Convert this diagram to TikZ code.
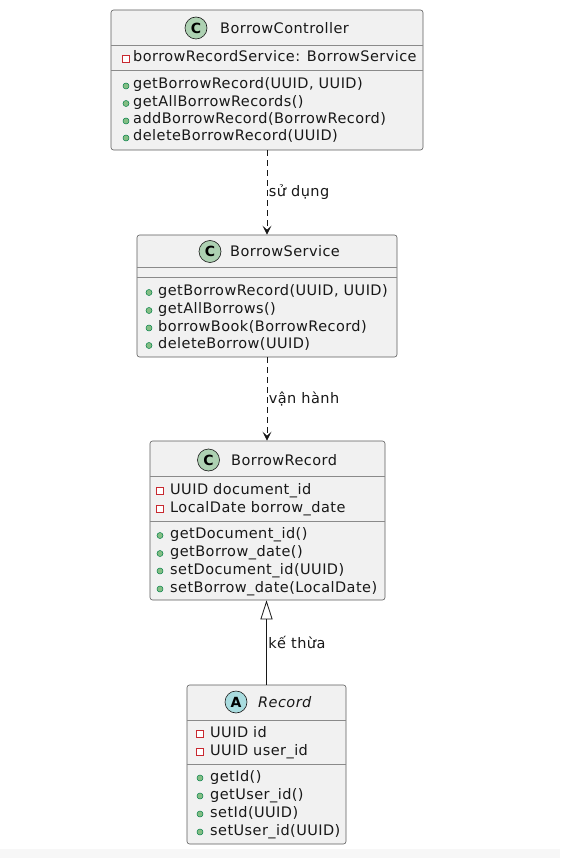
\documentclass[tikz,border=0pt]{standalone}
\usepackage{fontspec}
\setmainfont[LetterSpace=3]{DejaVu Sans}
\usepackage{xcolor}
\usepackage{tikz}
\usetikzlibrary{arrows.meta}
\definecolor{UMLFill}{HTML}{F1F1F1}
\definecolor{UMLLine}{HTML}{181818}
\definecolor{UMLSep}{HTML}{8A8A8A}
\definecolor{UMLClassIcon}{HTML}{ADD1B2}
\definecolor{UMLAbstractIcon}{HTML}{A9DCDF}
\definecolor{UMLPrivate}{HTML}{C82930}
\definecolor{UMLPublic}{HTML}{84BE84}
\definecolor{UMLPublicLine}{HTML}{038048}
\definecolor{UMLStrip}{HTML}{F7F7F7}
\newcommand\umlmember{\fontsize{14.5}{17}\selectfont}
\newcommand\umltitle{\fontsize{14.5}{17}\selectfont}

\tikzset{
  classbox/.style={draw=UMLLine!70,fill=UMLFill,line width=.6pt,rounded corners=2.5pt,inner sep=0pt},
  sepline/.style={draw=UMLSep,line width=.6pt},
  classicon/.style={circle,draw=UMLLine,line width=.6pt,fill=UMLClassIcon,minimum size=22pt,inner sep=0pt,font=\fontsize{14}{14}\selectfont\bfseries},
  abstracticon/.style={classicon,fill=UMLAbstractIcon},
  classtitle/.style={anchor=west,inner sep=0pt,font=\umltitle,text=UMLLine},
  member/.style={anchor=west,inner sep=0pt,text height=10.5pt,text depth=2.5pt,font=\umlmember,text=UMLLine},
  privmark/.style={draw=UMLPrivate,fill=white,line width=.7pt},
  pubmark/.style={draw=UMLPublicLine,fill=UMLPublic,line width=.5pt},
  uses/.style={draw=UMLLine,line width=.8pt,dash pattern=on 6pt off 4pt,-{Stealth[length=9pt,width=9pt,inset=4pt]}},
  extends/.style={draw=UMLLine,line width=.8pt,-{Triangle[open,fill=white,length=19pt,width=12pt]}},
  edgelabel/.style={anchor=west,inner sep=0pt,xshift=1.5pt,font=\umlmember,text=UMLLine},
}

\begin{document}
\begin{tikzpicture}[x=1pt,y={(0,-1pt)}]
\path[use as bounding box] (0,0) rectangle (560,858);
\fill[white] (0,0) rectangle (560,858);
\fill[UMLStrip] (0,849) rectangle (560,858);

% BorrowController
\node[classbox,minimum width=312pt,minimum height=140pt] (bc) at (267,80) {};
\draw[sepline] (111,45) -- (423,45);
\draw[sepline] (111,70) -- (423,70);
\node[classicon] (bcIcon) at (196,28) {C};
\node[classtitle] (bcTitle) at (220,28) {BorrowController};
\draw[privmark] (122.5,55) rectangle (129.5,62);
\node[member] (bcAttr1) at (133,58) {borrowRecordService: BorrowService};
\fill[pubmark] (126,86) circle (3);
\node[member] (bcOp1) at (133,85) {getBorrowRecord(UUID, UUID)};
\fill[pubmark] (126,103.5) circle (3);
\node[member] (bcOp2) at (133,102.5) {getAllBorrowRecords()};
\fill[pubmark] (126,121) circle (3);
\node[member] (bcOp3) at (133,120) {addBorrowRecord(BorrowRecord)};
\fill[pubmark] (126,138) circle (3);
\node[member] (bcOp4) at (133,137) {deleteBorrowRecord(UUID)};

% BorrowService
\node[classbox,minimum width=260pt,minimum height=122pt] (bs) at (267,296) {};
\draw[sepline] (137,267.5) -- (397,267.5);
\draw[sepline] (137,277.5) -- (397,277.5);
\node[classicon] (bsIcon) at (210,251.5) {C};
\node[classtitle] (bsTitle) at (230,251.5) {BorrowService};
\fill[pubmark] (149,292.5) circle (3);
\node[member] (bsOp1) at (158,291.5) {getBorrowRecord(UUID, UUID)};
\fill[pubmark] (149,310.5) circle (3);
\node[member] (bsOp2) at (158,309.5) {getAllBorrows()};
\fill[pubmark] (149,328) circle (3);
\node[member] (bsOp3) at (158,327) {borrowBook(BorrowRecord)};
\fill[pubmark] (149,345.5) circle (3);
\node[member] (bsOp4) at (158,344.5) {deleteBorrow(UUID)};

% BorrowRecord
\node[classbox,minimum width=235pt,minimum height=159pt] (br) at (267.5,520.5) {};
\draw[sepline] (150,476.5) -- (385,476.5);
\draw[sepline] (150,521.5) -- (385,521.5);
\node[classicon] (brIcon) at (208.5,460) {C};
\node[classtitle] (brTitle) at (231,460) {BorrowRecord};
\draw[privmark] (156.5,487) rectangle (163.5,494);
\node[member] (brAttr1) at (170,490) {UUID document\_id};
\draw[privmark] (156.5,505) rectangle (163.5,512);
\node[member] (brAttr2) at (170,508) {LocalDate borrow\_date};
\fill[pubmark] (160,535.5) circle (3);
\node[member] (brOp1) at (170,534.5) {getDocument\_id()};
\fill[pubmark] (160,553.5) circle (3);
\node[member] (brOp2) at (170,552.5) {getBorrow\_date()};
\fill[pubmark] (160,571) circle (3);
\node[member] (brOp3) at (170,570) {setDocument\_id(UUID)};
\fill[pubmark] (160,589) circle (3);
\node[member] (brOp4) at (170,588) {setBorrow\_date(LocalDate)};

% Record (abstract)
\node[classbox,minimum width=159pt,minimum height=159pt] (rec) at (266.5,764.5) {};
\draw[sepline] (187,720) -- (346,720);
\draw[sepline] (187,764) -- (346,764);
\node[abstracticon] (recIcon) at (236,702) {A};
\node[classtitle,font=\umltitle\itshape] (recTitle) at (258,702) {Record};
\draw[privmark] (196.5,730) rectangle (203.5,737);
\node[member] (recAttr1) at (210,733) {UUID id};
\draw[privmark] (196.5,748) rectangle (203.5,755);
\node[member] (recAttr2) at (210,751) {UUID user\_id};
\fill[pubmark] (200,778) circle (3);
\node[member] (recOp1) at (210,777) {getId()};
\fill[pubmark] (200,796) circle (3);
\node[member] (recOp2) at (210,795) {getUser\_id()};
\fill[pubmark] (200,814) circle (3);
\node[member] (recOp3) at (210,813) {setId(UUID)};
\fill[pubmark] (200,832) circle (3);
\node[member] (recOp4) at (210,831) {setUser\_id(UUID)};

% relations
\draw[uses] (bc.south) -- (bs.north) node[edgelabel,midway] (lblUses) {sử dụng};
\draw[uses] (bs.south) -- (bs.south |- br.north) node[edgelabel,midway] (lblRuns) {vận hành};
\draw[extends] (rec.north) -- (rec.north |- br.south) node[edgelabel,midway] (lblExtends) {kế thừa};
\end{tikzpicture}
\end{document}
